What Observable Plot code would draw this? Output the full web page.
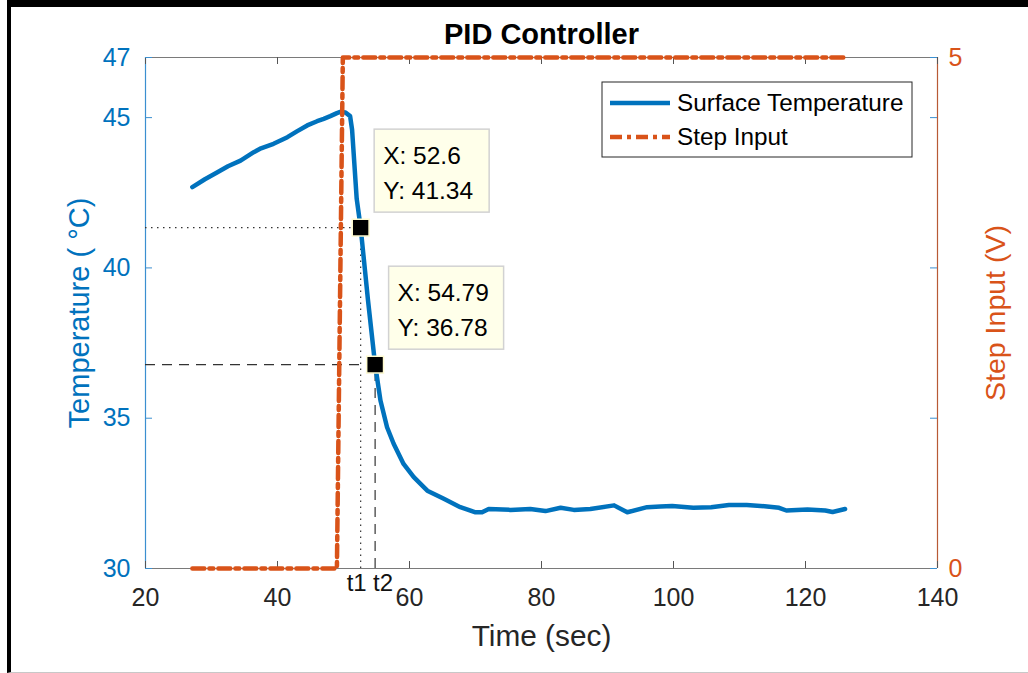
<!DOCTYPE html>
<html><head><meta charset="utf-8">
<script src="https://cdn.jsdelivr.net/npm/d3@7"></script>
<script src="https://cdn.jsdelivr.net/npm/@observablehq/plot@0.6"></script>
<style>
html,body{margin:0;padding:0;background:#fff;}
#wrap{position:relative;width:1028px;height:673px;overflow:hidden;background:#fff;}
#frame{position:absolute;left:7px;top:0;width:1021px;height:673px;box-sizing:border-box;border-top:7px solid #000;border-left:4px solid #000;border-bottom:1px solid #c8c8c8;pointer-events:none;z-index:2;}
</style></head><body><div id="wrap"><div id="frame"></div></div>
<script>
const title = "PID Controller";
const xLabel = "Time (sec)";
const yLabel = "Temperature ( °C)";
const y2Label = "Step Input (V)";
const xDomain = [20, 140];
const yDomain = [30, 47];
const y2Domain = [0, 5];
const xTicks = [20, 40, 60, 80, 100, 120, 140];
const yTicks = [30, 35, 40, 45, 47];
const y2Ticks = [0, 5];
const seriesNames = ["Surface Temperature", "Step Input"];

const tempTime = [27.1, 29.0, 30.9, 32.5, 34.4, 36.4, 37.5, 39.4, 41.5, 43.0, 44.5, 46.0, 47.0, 48.0, 49.0, 49.5, 50.3, 51.0, 51.3, 52.0, 52.6, 53.7, 54.79, 55.6, 56.6, 57.6, 59.1, 60.65, 62.7, 65.2, 67.7, 70.0, 71.0, 72.0, 75.3, 78.3, 80.6, 82.9, 84.9, 87.4, 91.0, 93.0, 96.0, 98.0, 99.8, 103.0, 105.7, 108.4, 111.1, 113.8, 116.0, 117.1, 120.3, 123.0, 124.1, 126.0];
const tempValue = [42.69, 42.95, 43.18, 43.38, 43.57, 43.85, 43.98, 44.13, 44.35, 44.55, 44.74, 44.88, 44.96, 45.05, 45.15, 45.19, 45.17, 45.05, 44.6, 42.3, 41.34, 38.95, 36.78, 35.59, 34.70, 34.15, 33.48, 33.04, 32.59, 32.32, 32.04, 31.87, 31.87, 31.98, 31.95, 31.98, 31.91, 32.02, 31.95, 31.98, 32.10, 31.87, 32.04, 32.06, 32.08, 32.02, 32.04, 32.11, 32.11, 32.07, 32.02, 31.93, 31.96, 31.93, 31.88, 31.98];

const stepTime = [27.1, 49.0, 49.9, 126.1];
const stepValue = [0, 0, 5, 5];

const tipX = [52.6, 54.79];
const tipY = [41.34, 36.78];
const tipNames = ["t1", "t2"];

const blue = "#0072BD", orange = "#D95319";
const W = 1028, H = 673;
const M = {top: 57, right: 91, bottom: 105, left: 145};
const innerW = W - M.left - M.right, innerH = H - M.top - M.bottom;
const stepToY = v => yDomain[0] + v * (yDomain[1] - yDomain[0]) / y2Domain[1];

const temp = tempTime.map((t, i) => ({t, v: tempValue[i]}));
const step = stepTime.map((t, i) => ({t, v: stepValue[i]}));
const tips = tipX.map((x, i) => ({x, y: tipY[i], name: tipNames[i]}));
const font = "'Liberation Sans', Arial, Helvetica, sans-serif";

function overlay(index, scales, values, dims) {
  const g = d3.create("svg:g").attr("font-family", font).attr("text-anchor", "start");
  // data tips
  tips.forEach(d => {
    const px = scales.x(d.x), py = scales.y(d.y);
    const bw = 115, bh = 83, bx = px + 14, by = py - 15 - bh;
    g.append("rect").attr("x", bx).attr("y", by).attr("width", bw).attr("height", bh)
      .attr("fill", "#ffffea").attr("stroke", "#d2d2d2").attr("stroke-width", 1.5);
    g.append("text").attr("x", bx + 9).attr("y", by + 35).attr("font-size", 24.5).attr("fill", "#000").attr("text-anchor", "start").text("X: " + d.x);
    g.append("text").attr("x", bx + 9).attr("y", by + 70).attr("font-size", 24.5).attr("fill", "#000").attr("text-anchor", "start").text("Y: " + d.y);
  });
  // legend
  const lx2 = dims.width - dims.marginRight - 25, ly1 = dims.marginTop + 25;
  const lw = 310, lh = 75, lx1 = lx2 - lw;
  g.append("rect").attr("x", lx1).attr("y", ly1).attr("width", lw).attr("height", lh)
    .attr("fill", "#fff").attr("stroke", "#262626").attr("stroke-width", 1);
  const rows = [{name: seriesNames[0], color: blue, dash: null}, {name: seriesNames[1], color: orange, dash: "12,5,4,5"}];
  rows.forEach((r, i) => {
    const cy = ly1 + 21 + i * 34;
    const ln = g.append("line").attr("x1", lx1 + 8).attr("x2", lx1 + 68).attr("y1", cy).attr("y2", cy)
      .attr("stroke", r.color).attr("stroke-width", 4.5);
    if (r.dash) ln.attr("stroke-dasharray", r.dash);
    g.append("text").attr("x", lx1 + 75).attr("y", cy + 8).attr("font-size", 24.3).attr("fill", "#000").attr("text-anchor", "start").text(r.name);
  });
  return g.node();
}

const chart = Plot.plot({
  width: W, height: H,
  marginTop: M.top, marginRight: M.right, marginBottom: M.bottom, marginLeft: M.left,
  style: {fontFamily: font, fontSize: "25px", background: "transparent", overflow: "visible"},
  x: {domain: xDomain},
  y: {domain: yDomain},
  marks: [
    // axes box
    Plot.ruleY([yDomain[0], yDomain[1]], {stroke: "#7a7a7a", strokeWidth: 1.2}),
    Plot.ruleX([xDomain[0]], {stroke: "#3b8fd0", strokeWidth: 1.2}),
    Plot.ruleX([xDomain[1]], {stroke: "#b85a35", strokeWidth: 1.2}),
    // ticks (inward)
    Plot.tickX(xTicks, {x: d => d, insetTop: innerH - 7, stroke: "#555"}),
    Plot.tickX(xTicks, {x: d => d, insetBottom: innerH - 7, stroke: "#555"}),
    Plot.tickY(yTicks, {y: d => d, insetRight: innerW - 7, stroke: "#3b8fd0"}),
    Plot.tickY(yTicks, {y: d => d, insetLeft: innerW - 7, stroke: "#3b8fd0"}),
    // tick labels
    Plot.axisX({anchor: "bottom", ticks: xTicks, tickSize: 0, tickPadding: 20, fill: "#262626", label: null, fontSize: 25}),
    Plot.axisY({anchor: "left", ticks: yTicks, tickSize: 0, tickPadding: 15, fill: blue, label: null, fontSize: 25}),
    Plot.axisY({anchor: "right", ticks: y2Ticks.map(stepToY), tickFormat: (d, i) => String(y2Ticks[i]), tickSize: 0, tickPadding: 11, fill: orange, label: null, fontSize: 25}),
    // data tip guide lines
    Plot.ruleY([tips[0]], {y: "y", x1: d => xDomain[0], x2: "x", stroke: "#333", strokeWidth: 1.2, strokeDasharray: "1.5,4.5"}),
    Plot.ruleX([tips[0]], {x: "x", y1: d => yDomain[0], y2: "y", stroke: "#333", strokeWidth: 1.2, strokeDasharray: "1.5,4.5"}),
    Plot.ruleY([tips[1]], {y: "y", x1: d => xDomain[0], x2: "x", stroke: "#333", strokeWidth: 1.2, strokeDasharray: "10,7"}),
    Plot.ruleX([tips[1]], {x: "x", y1: d => yDomain[0], y2: "y", stroke: "#333", strokeWidth: 1.2, strokeDasharray: "10,7"}),
    // series
    Plot.line(temp, {x: "t", y: "v", stroke: blue, strokeWidth: 4.5, curve: "linear"}),
    Plot.line(step, {x: "t", y: d => stepToY(d.v), stroke: orange, strokeWidth: 4.5, strokeDasharray: "12,5,4,5"}),
    // data tip markers
    Plot.dot(tips, {x: "x", y: "y", symbol: "square", r: 9.5, fill: "#000", stroke: "#fffbd0", strokeWidth: 1.5}),
    // t1 / t2 labels
    Plot.text([tips[0]], {x: "x", y: d => yDomain[0], text: "name", dy: 15, dx: -4, fontSize: 24, fill: "#111"}),
    Plot.text([tips[1]], {x: "x", y: d => yDomain[0], text: "name", dy: 15, dx: 8, fontSize: 24, fill: "#111"}),
    // axis labels
    Plot.text([xLabel], {frameAnchor: "bottom", dy: 68, fontSize: 29.8, fill: "#262626", textAnchor: "middle", lineAnchor: "middle"}),
    Plot.text([yLabel], {frameAnchor: "left", dx: -66, rotate: -90, fontSize: 29, fill: blue, textAnchor: "middle", lineAnchor: "middle"}),
    Plot.text([y2Label], {frameAnchor: "right", dx: 58, rotate: -90, fontSize: 28.5, fill: orange, textAnchor: "middle", lineAnchor: "middle"}),
    // title
    Plot.text([title], {frameAnchor: "top", dy: -23, fontSize: 29, fontWeight: "bold", fill: "#000", textAnchor: "middle", lineAnchor: "middle"}),
    overlay
  ]
});
document.getElementById("wrap").appendChild(chart);
</script></body></html>
